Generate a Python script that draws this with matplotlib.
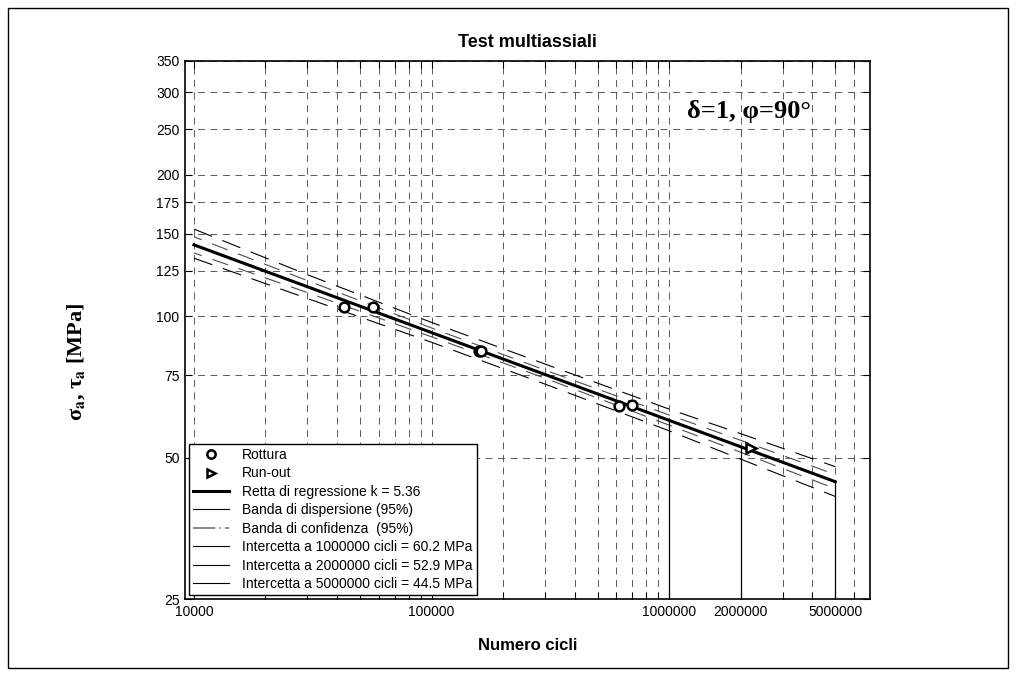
import matplotlib
matplotlib.use('Agg')
import matplotlib.pyplot as plt
from matplotlib.lines import Line2D
from matplotlib.patches import Rectangle
from matplotlib.ticker import FixedLocator, FixedFormatter, NullLocator

plt.rcParams['font.family'] = ['Liberation Sans', 'DejaVu Sans']
plt.rcParams['mathtext.fontset'] = 'stix'
plt.rcParams['lines.scale_dashes'] = False

# Test results: failures and run-out
cycles_break = [42800, 56500, 158000, 162000, 612000, 697000]
stress_break = [104.6, 104.6, 84.6, 84.3, 64.6, 64.7]
cycles_runout = [2.2e6]
stress_runout = [52.5]

# Regression line (k = 5.36)
fit_cycles = [1e4, 5e6]
fit_stress = [142.0, 44.5]

# Scatter band and confidence band
band_cycles = [1e4, 3e4, 1e5, 3e5, 1e6, 2e6, 5e6]
disp_hi = [153.4, 122.7, 97.1, 79.2, 63.5, 56.3, 47.9]
disp_lo = [133.0, 109.2, 88.1, 71.8, 57.1, 49.7, 41.4]
conf_hi = [147.7, 119.2, 94.5, 76.9, 61.7, 54.5, 46.1]
conf_lo = [136.5, 112.4, 90.5, 73.9, 58.7, 51.4, 43.0]

# Intercepts
intercept_cycles = [1e6, 2e6, 5e6]
intercept_stress = [60.2, 52.9, 44.5]

x_major = [1e4, 1e5, 1e6, 2e6, 5e6]
x_major_labels = ['10000', '100000', '1000000', '2000000', '5000000']
x_minor = [2e4, 3e4, 4e4, 5e4, 6e4, 7e4, 8e4, 9e4,
           2e5, 3e5, 4e5, 5e5, 6e5, 7e5, 8e5, 9e5,
           3e6, 4e6, 6e6]
y_ticks = [25, 50, 75, 100, 125, 150, 175, 200, 250, 300, 350]

serif = ['Liberation Serif', 'DejaVu Serif']

fig = plt.figure(figsize=(10.16, 6.76), dpi=100)
ax = fig.add_axes([0.1821, 0.1133, 0.6742, 0.7969])
ax.set_xscale('log')
ax.set_yscale('log')
ax.set_xlim(9170, 7.0e6)
ax.set_ylim(25, 350)

ax.xaxis.set_major_locator(FixedLocator(x_major))
ax.xaxis.set_major_formatter(FixedFormatter(x_major_labels))
ax.xaxis.set_minor_locator(FixedLocator(x_minor))
ax.xaxis.set_minor_formatter(FixedFormatter([''] * len(x_minor)))
ax.yaxis.set_major_locator(FixedLocator(y_ticks))
ax.yaxis.set_major_formatter(FixedFormatter([str(v) for v in y_ticks]))
ax.yaxis.set_minor_locator(NullLocator())

ax.grid(True, which='both', color='0.25', ls=(0, (5, 4)), lw=0.6)
ax.tick_params(which='both', direction='in', top=True, right=True,
               labelsize=10, length=5, width=0.8, pad=4)
for s in ax.spines.values():
    s.set_linewidth(1.2)

# bands
for band in (disp_hi, disp_lo):
    ax.plot(band_cycles, band, color='k', lw=0.8, ls=(0, (14, 8)))
for band in (conf_hi, conf_lo):
    ax.plot(band_cycles, band, color='0.3', lw=0.8, ls=(6, (12, 8)))

ax.plot(fit_cycles, fit_stress, color='k', lw=2.2)
ax.vlines(intercept_cycles, 25, intercept_stress, colors='k', lw=0.9)

ax.plot(cycles_break, stress_break, ls='none', marker='o', ms=7,
        mfc='white', mec='k', mew=1.8)
ax.plot(cycles_runout, stress_runout, ls='none', marker='>', ms=7,
        mfc='white', mec='k', mew=1.8)

handles = [
    Line2D([], [], ls='none', marker='o', ms=6, mfc='white', mec='k', mew=1.8),
    Line2D([], [], ls='none', marker='>', ms=6, mfc='white', mec='k', mew=1.8),
    Line2D([], [], color='k', lw=2.2),
    Line2D([], [], color='k', lw=0.8),
    Line2D([], [], color='0.45', lw=1.2, ls=(0, (16, 3, 1, 3))),
    Line2D([], [], color='k', lw=0.8),
    Line2D([], [], color='k', lw=0.8),
    Line2D([], [], color='k', lw=0.8),
]
labels = [
    'Rottura',
    'Run-out',
    'Retta di regressione k = 5.36',
    'Banda di dispersione (95%)',
    'Banda di confidenza  (95%)',
    'Intercetta a 1000000 cicli = 60.2 MPa',
    'Intercetta a 2000000 cicli = 52.9 MPa',
    'Intercetta a 5000000 cicli = 44.5 MPa',
]
leg = ax.legend(handles, labels, loc='lower left', fontsize=10,
                fancybox=False, framealpha=1, edgecolor='k',
                borderaxespad=0.3, borderpad=0.3, labelspacing=0.32,
                handlelength=2.6, handletextpad=0.9)
leg.get_frame().set_linewidth(1.0)

ax.set_title('Test multiassiali', fontsize=13, fontweight='bold', pad=10)
ax.set_xlabel('Numero cicli', fontsize=12, fontweight='bold', labelpad=14)
ax.set_ylabel(r'σ$_\mathbf{a}$, τ$_\mathbf{a}$ [MPa]', fontsize=16,
              fontweight='bold', family=serif)
ax.yaxis.set_label_coords(-0.143, 0.44)

ax.text(687 / 1016, 1 - 118 / 676, 'δ=1, φ=90°', transform=fig.transFigure,
        fontsize=19, fontweight='bold', family=serif,
        va='baseline', ha='left')

fig.patches.append(Rectangle((8 / 1016, 8 / 676), 1000 / 1016, 660 / 676,
                             transform=fig.transFigure, fill=False,
                             ec='k', lw=1.0))

fig.savefig('out.png', dpi=100)
